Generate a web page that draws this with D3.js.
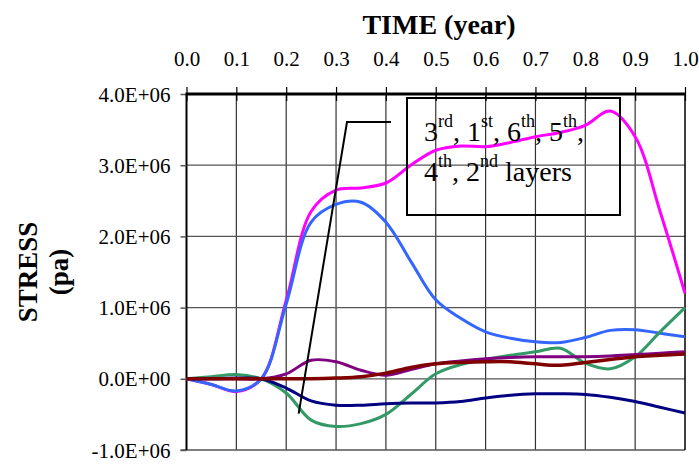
<!DOCTYPE html>
<html>
<head>
<meta charset="utf-8">
<script src="https://cdn.jsdelivr.net/npm/d3@7"></script>
<style>
	body { margin: 0; background: #fff; }
	text { font-family: "Liberation Serif", "Times New Roman", serif; }
</style>
</head>
<body>
<script>
//stress vs time, six layers
var timeValues = [0, 0.05, 0.1, 0.15, 0.2, 0.25, 0.3, 0.35, 0.4, 0.45, 0.5, 0.55, 0.6, 0.65, 0.7, 0.75, 0.8, 0.85, 0.9, 0.95, 1.0];

//stress values in 1.0E+06 pa
var layerMagenta = [0, -0.08, -0.18, 0.0, 1.1, 2.35, 2.65, 2.68, 2.75, 3.0, 3.21, 3.27, 3.26, 3.32, 3.4, 3.46, 3.56, 3.76, 3.4, 2.35, 1.2];
var layerBlue    = [0, -0.08, -0.17, 0.0, 1.05, 2.2, 2.45, 2.48, 2.2, 1.65, 1.11, 0.85, 0.66, 0.57, 0.52, 0.51, 0.58, 0.68, 0.69, 0.64, 0.59];
var layerGreen   = [0, 0.03, 0.06, 0.0, -0.2, -0.58, -0.67, -0.63, -0.5, -0.22, 0.07, 0.2, 0.27, 0.33, 0.38, 0.43, 0.22, 0.14, 0.31, 0.66, 1.0];
var layerNavy    = [0, 0, 0.01, 0, -0.13, -0.31, -0.37, -0.37, -0.35, -0.34, -0.34, -0.32, -0.27, -0.23, -0.21, -0.21, -0.22, -0.26, -0.32, -0.4, -0.48];
var layerPurple  = [0, 0, 0, 0, 0.07, 0.26, 0.24, 0.12, 0.05, 0.13, 0.21, 0.25, 0.28, 0.3, 0.31, 0.31, 0.31, 0.32, 0.34, 0.36, 0.38];
var layerDarkRed = [0, 0, 0, 0, 0, 0, 0.01, 0.03, 0.08, 0.16, 0.21, 0.23, 0.24, 0.24, 0.21, 0.19, 0.23, 0.27, 0.31, 0.33, 0.35];

var xTicks = [0, 0.1, 0.2, 0.3, 0.4, 0.5, 0.6, 0.7, 0.8, 0.9, 1.0];
var yTicks = [-1, 0, 1, 2, 3, 4];
var yTickLabels = ["-1.0E+06", "0.0E+00", "1.0E+06", "2.0E+06", "3.0E+06", "4.0E+06"];

(function(){
	var series = [
		{values: layerMagenta, color: "#ff00ff", width: 3},
		{values: layerBlue, color: "#3366ff", width: 3},
		{values: layerGreen, color: "#339966", width: 3},
		{values: layerNavy, color: "#000080", width: 3},
		{values: layerPurple, color: "#800080", width: 3},
		{values: layerDarkRed, color: "#800000", width: 3.5}
	];

	var width = 699,
		height = 464,
		plotLeft = 186.5,
		plotRight = 685,
		plotTop = 94,
		plotBottom = 450;

	var xScale = d3.scaleLinear()
		.domain([0, 1])
		.range([plotLeft, plotRight]);

	var yScale = d3.scaleLinear()
		.domain([-1, 4])
		.range([plotBottom, plotTop]);

	var svg = d3.select("body")
		.append("svg")
		.attr("width", width)
		.attr("height", height);

	//grid lines
	svg.selectAll(".vgrid")
		.data(xTicks.slice(1, -1))
		.enter()
		.append("line")
		.attr("class", "vgrid")
		.attr("x1", function(d){ return xScale(d); })
		.attr("x2", function(d){ return xScale(d); })
		.attr("y1", plotTop)
		.attr("y2", plotBottom)
		.attr("stroke", "#333")
		.attr("stroke-width", 1.2);

	svg.selectAll(".hgrid")
		.data(yTicks.slice(1, -1))
		.enter()
		.append("line")
		.attr("class", "hgrid")
		.attr("x1", plotLeft)
		.attr("x2", plotRight)
		.attr("y1", function(d){ return yScale(d); })
		.attr("y2", function(d){ return yScale(d); })
		.attr("stroke", "#555")
		.attr("stroke-width", 1.2);

	//frame
	svg.append("line")
		.attr("x1", plotLeft - 6).attr("x2", plotRight)
		.attr("y1", plotBottom).attr("y2", plotBottom)
		.attr("stroke", "#555").attr("stroke-width", 1.5);
	svg.append("line")
		.attr("x1", plotRight).attr("x2", plotRight)
		.attr("y1", plotTop).attr("y2", plotBottom)
		.attr("stroke", "#000").attr("stroke-width", 1.5);
	svg.append("line")
		.attr("x1", plotLeft).attr("x2", plotLeft)
		.attr("y1", plotTop).attr("y2", plotBottom)
		.attr("stroke", "#000").attr("stroke-width", 2);

	//y axis, ticks outside left
	var yAxis = d3.axisLeft(yScale)
		.tickValues(yTicks)
		.tickSize(6)
		.tickPadding(10)
		.tickFormat(function(d, i){ return yTickLabels[i]; });

	var yAxisG = svg.append("g")
		.attr("transform", "translate(" + plotLeft + ",0)")
		.call(yAxis);
	yAxisG.select(".domain").remove();
	yAxisG.selectAll("line").attr("stroke", "#555").attr("stroke-width", 1.5);
	yAxisG.selectAll("text")
		.attr("fill", "#000")
		.attr("dy", null)
		.attr("y", 7)
		.style("font-size", "21px")
		.style("font-family", "'Liberation Serif', serif");

	//x axis on top, ticks crossing the line
	var xAxis = d3.axisTop(xScale)
		.tickValues(xTicks)
		.tickSize(7)
		.tickPadding(21)
		.tickFormat(d3.format(".1f"));

	var xAxisG = svg.append("g")
		.attr("transform", "translate(0," + plotTop + ")")
		.call(xAxis);
	xAxisG.select(".domain").remove();
	xAxisG.selectAll(".tick line")
		.attr("y1", 7)
		.attr("stroke", "#000")
		.attr("stroke-width", 1.2);
	xAxisG.selectAll("text")
		.attr("fill", "#000")
		.style("font-size", "21px")
		.style("font-family", "'Liberation Serif', serif");

	svg.append("line")
		.attr("x1", plotLeft - 1).attr("x2", plotRight + 1)
		.attr("y1", plotTop).attr("y2", plotTop)
		.attr("stroke", "#000").attr("stroke-width", 3);

	//lines
	var line = d3.line()
		.x(function(d, i){ return xScale(timeValues[i]); })
		.y(function(d){ return yScale(d); })
		.curve(d3.curveCatmullRom.alpha(0.5));

	svg.selectAll(".layer")
		.data(series)
		.enter()
		.append("path")
		.attr("class", "layer")
		.attr("d", function(d){ return line(d.values); })
		.attr("fill", "none")
		.attr("stroke", function(d){ return d.color; })
		.attr("stroke-width", function(d){ return d.width; })
		.attr("stroke-linejoin", "round");

	//annotation box and leader line
	svg.append("rect")
		.attr("x", 407)
		.attr("y", 98)
		.attr("width", 213)
		.attr("height", 117)
		.attr("fill", "none")
		.attr("stroke", "#000")
		.attr("stroke-width", 2);

	svg.append("polyline")
		.attr("points", "391,122 347,122 " + xScale(0.225) + "," + yScale(-0.49))
		.attr("fill", "none")
		.attr("stroke", "#000")
		.attr("stroke-width", 2);

	function addLabel(y, parts){
		var t = svg.append("text")
			.attr("x", 424)
			.attr("y", y)
			.style("white-space", "pre")
			.style("font-size", "28px");
		parts.forEach(function(p){
			t.append("tspan")
				.attr("dy", p.sup ? -14 : (p.after ? 14 : 0))
				.style("font-size", p.sup ? "18px" : "28px")
				.text(p.text);
		});
	}

	addLabel(141, [
		{text: "3"}, {text: "rd", sup: true}, {text: ", 1", after: true},
		{text: "st", sup: true}, {text: ", 6", after: true},
		{text: "th", sup: true}, {text: ", 5", after: true},
		{text: "th", sup: true}, {text: ",", after: true}
	]);
	addLabel(181, [
		{text: "4"}, {text: "th", sup: true}, {text: ", 2", after: true},
		{text: "nd", sup: true}, {text: " layers", after: true}
	]);

	//titles
	svg.append("text")
		.attr("x", 439)
		.attr("y", 34)
		.attr("text-anchor", "middle")
		.style("font-size", "28px")
		.style("font-weight", "bold")
		.text("TIME (year)");

	svg.append("text")
		.attr("transform", "translate(37,272) rotate(-90)")
		.attr("text-anchor", "middle")
		.style("font-size", "27px")
		.style("font-weight", "bold")
		.text("STRESS");

	svg.append("text")
		.attr("transform", "translate(68,272) rotate(-90)")
		.attr("text-anchor", "middle")
		.style("font-size", "27px")
		.style("font-weight", "bold")
		.text("(pa)");
})();
</script>
</body>
</html>
